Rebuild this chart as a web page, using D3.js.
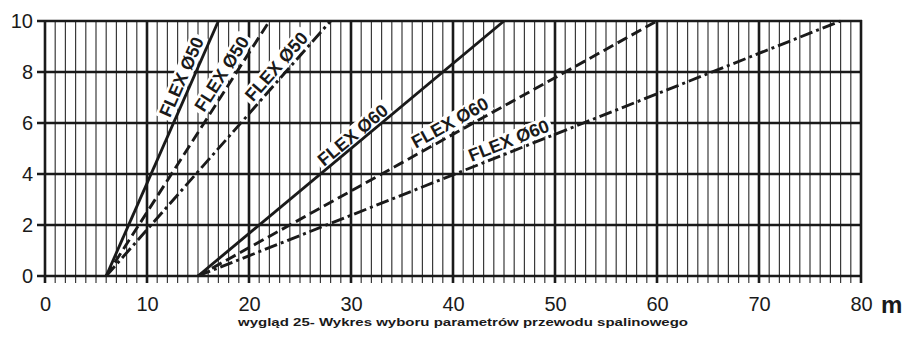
<!DOCTYPE html>
<html>
<head>
<meta charset="utf-8">
<script src="https://cdn.jsdelivr.net/npm/d3@7"></script>
<style>
  html, body { margin: 0; padding: 0; background: #fff; }
  svg { display: block; }
  text { font-family: "Liberation Sans", Arial, Helvetica, sans-serif; fill: #1a1a1a; }
</style>
</head>
<body>
<svg id="chart" width="905" height="342"></svg>
<script>
// ---- data ----
const xTickValues = [0, 10, 20, 30, 40, 50, 60, 70, 80];
const yTickValues = [0, 2, 4, 6, 8, 10];
const seriesLabels = ["FLEX Ø50", "FLEX Ø50", "FLEX Ø50", "FLEX Ø60", "FLEX Ø60", "FLEX Ø60"];
const startX = [6, 6, 6, 15, 15, 15];
const startY = [0, 0, 0, 0, 0, 0];
const endX = [17, 22, 28, 45, 60, 78];
const endY = [10, 10, 10, 10, 10, 10];
const xUnit = "m";
const caption = "wygląd 25- Wykres wyboru parametrów przewodu spalinowego";

// ---- styling / layout (not data) ----
const dashStyles = [null, "11,5", "13,4,3,4", null, "11,5", "13,4,3,4"];
const labelAlong = [0.763, 0.768, 0.794, 0.525, 0.561, 0.49];
const labelOffset = [11, 11.5, 10.5, 9, 11.5, 11];
const labelSize = 18;

const svg = d3.select("#chart");
const x = d3.scaleLinear().domain([0, 80]).range([45, 861]);
const y = d3.scaleLinear().domain([0, 10]).range([276, 21]);
const ink = "#1a1a1a";

// minor vertical grid (every 1 m), extending below as ticks
const minor = d3.range(0, 81, 1).filter(v => v % 10 !== 0);
svg.append("g").selectAll("line").data(minor).join("line")
  .attr("x1", d => x(d)).attr("x2", d => x(d))
  .attr("y1", y(10)).attr("y2", y(0) + 7)
  .attr("stroke", "#3a3a3a").attr("stroke-width", 1.2);

// horizontal grid lines with left ticks
svg.append("g").selectAll("line").data(yTickValues).join("line")
  .attr("x1", x(0) - 8).attr("x2", x(80) + 1)
  .attr("y1", d => y(d)).attr("y2", d => y(d))
  .attr("stroke", ink).attr("stroke-width", 2.3);

// major vertical lines
svg.append("g").selectAll("line").data(xTickValues).join("line")
  .attr("x1", d => x(d)).attr("x2", d => x(d))
  .attr("y1", y(10) - 1).attr("y2", y(0) + 7)
  .attr("stroke", ink).attr("stroke-width", 2.6);

// tick labels via axes
const yAxis = d3.axisLeft(y).tickValues(yTickValues).tickSize(0).tickPadding(12).tickFormat(d3.format("d"));
const gy = svg.append("g").attr("transform", `translate(${x(0)},0)`).call(yAxis);
gy.select(".domain").remove();
gy.selectAll("text").attr("font-size", 20).attr("fill", "#222")
  .style("font-family", "'Liberation Sans', Arial, sans-serif");

const xAxis = d3.axisBottom(x).tickValues(xTickValues).tickSize(0).tickPadding(21).tickFormat(d3.format("d"));
const gx = svg.append("g").attr("transform", `translate(0,${y(0)})`).call(xAxis);
gx.select(".domain").remove();
gx.selectAll("text").attr("font-size", 20).attr("fill", "#222")
  .style("font-family", "'Liberation Sans', Arial, sans-serif");

svg.append("text").attr("x", 881).attr("y", 313)
  .attr("font-size", 24).attr("font-weight", "bold").text(xUnit);

svg.append("text").attr("x", 238).attr("y", 326)
  .attr("font-size", 11.5).attr("font-weight", "bold")
  .attr("textLength", 450).attr("lengthAdjust", "spacingAndGlyphs").text(caption);

// series geometry
const series = seriesLabels.map((lab, i) => {
  const x0 = x(startX[i]), y0 = y(startY[i]), x1 = x(endX[i]), y1 = y(endY[i]);
  const dx = x1 - x0, dy = y1 - y0, len = Math.hypot(dx, dy);
  const ux = dx / len, uy = dy / len;
  const t = labelAlong[i] * len;
  const cx = x0 + ux * t + uy * labelOffset[i];
  const cy = y0 + uy * t - ux * labelOffset[i];
  const ang = Math.atan2(dy, dx) * 180 / Math.PI;
  return { lab, i, x0, y0, x1, y1, cx, cy, ang };
});

// label backgrounds
const labG = svg.append("g");
const bgs = labG.selectAll("g").data(series).join("g")
  .attr("transform", d => `translate(${d.cx},${d.cy}) rotate(${d.ang})`);
bgs.each(function(d) {
  const g = d3.select(this);
  const t = g.append("text").attr("text-anchor", "middle").attr("dominant-baseline", "central")
    .attr("font-size", labelSize).attr("font-weight", "bold").text(d.lab);
  const bb = t.node().getBBox();
  t.remove();
  g.append("rect").attr("x", bb.x - 3).attr("y", bb.y + 1).attr("width", bb.width + 6).attr("height", bb.height - 2)
    .attr("fill", "#fff");
});

// lines
const lineGen = d3.line();
svg.append("g").selectAll("path").data(series).join("path")
  .attr("d", d => lineGen([[d.x0, d.y0], [d.x1, d.y1]]))
  .attr("fill", "none").attr("stroke", ink).attr("stroke-width", 2.9)
  .attr("stroke-dasharray", d => dashStyles[d.i]);

// label text
svg.append("g").selectAll("text").data(series).join("text")
  .attr("transform", d => `translate(${d.cx},${d.cy}) rotate(${d.ang})`)
  .attr("text-anchor", "middle").attr("dominant-baseline", "central")
  .attr("font-size", labelSize).attr("font-weight", "bold").text(d => d.lab);
</script>
</body>
</html>
